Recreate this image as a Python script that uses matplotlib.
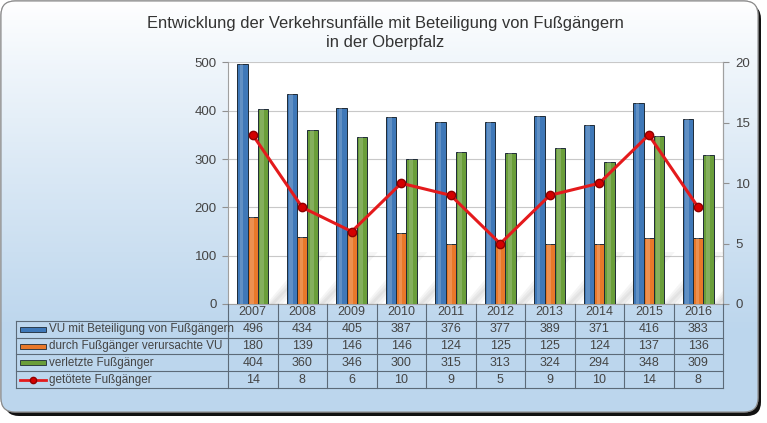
import numpy as np
import matplotlib
matplotlib.use("Agg")
import matplotlib.pyplot as plt
from matplotlib.patches import FancyBboxPatch, Rectangle, Polygon

plt.rcParams['font.family'] = ['Liberation Sans', 'DejaVu Sans']

# data
years = ['2007', '2008', '2009', '2010', '2011', '2012', '2013', '2014', '2015', '2016']
vu_beteiligung = [496, 434, 405, 387, 376, 377, 389, 371, 416, 383]
vu_verursacht = [180, 139, 146, 146, 124, 125, 125, 124, 137, 136]
verletzte = [404, 360, 346, 300, 315, 313, 324, 294, 348, 309]
getoetete = [14, 8, 6, 10, 9, 5, 9, 10, 14, 8]

labels = ['VU mit Beteiligung von Fußgängern', 'durch Fußgänger verursachte VU',
          'verletzte Fußgänger', 'getötete Fußgänger']
title = 'Entwicklung der Verkehrsunfälle mit Beteiligung von Fußgängern\nin der Oberpfalz'

BLUE = '#3f78b8'
ORANGE = '#e8782a'
GREEN = '#6a9e3a'
RED = '#e41a1c'
TXT = '#444444'
EDGE = '#5c6a78'

W, H = 767, 423
fig = plt.figure(figsize=(W / 100, H / 100), dpi=100)
fig.patch.set_facecolor('white')

# background box with gradient, in pixel coords
bg = fig.add_axes([0, 0, 1, 1], zorder=-10)
bg.set_xlim(0, W)
bg.set_ylim(H, 0)
bg.set_axis_off()
shadow = FancyBboxPatch((5, 5), 756, 411, boxstyle='round,pad=0,rounding_size=14',
                        facecolor='#111111', edgecolor='none')
bg.add_patch(shadow)
box = FancyBboxPatch((1, 1), 757, 411, boxstyle='round,pad=0,rounding_size=14',
                     facecolor='white', edgecolor='#8a8a8a', lw=0.8)
bg.add_patch(box)
grad = np.linspace(0, 1, 256).reshape(-1, 1)
grad = np.clip(grad * 1.25, 0, 1) ** 0.9
top = np.array([1.0, 1.0, 1.0])
bot = np.array([0.74, 0.84, 0.93])
img = top + (bot - top) * grad[..., None]
im = bg.imshow(img, extent=(1, 758, 412, 1), aspect='auto', zorder=1)
im.set_clip_path(box)
edge = FancyBboxPatch((1, 1), 757, 411, boxstyle='round,pad=0,rounding_size=14',
                      facecolor='none', edgecolor='#8a8a8a', lw=0.8, zorder=2)
bg.add_patch(edge)

fig.text(385 / W, 1 - 33 / H, title, ha='center', va='center', fontsize=11.9,
         color='#333333', linespacing=1.3)

# main plot
x0, x1 = 228, 723
y0, y1 = 304, 62.5
ax = fig.add_axes([x0 / W, (H - y0) / H, (x1 - x0) / W, (y0 - y1) / H])
ax.set_facecolor('white')
x = np.arange(len(years))
bw = 0.21

# soft floor shadows behind each bar group (pixel offsets -> data units)
px_x = 1 / ((x1 - x0) / len(years))
px_y = 500 / (y0 - y1)
for i in x:
    bx = i + 1.5 * bw
    for k, a in enumerate([0.05, 0.05, 0.05]):
        w = 14 - 4 * k
        pts = [(bx + (-2 + 2 * k) * px_x, 0), (bx + w * px_x, 0),
               (bx + (w + 46 - 6 * k) * px_x, (52 - 8 * k) * px_y),
               (bx + (42 - 2 * k) * px_x, (52 - 8 * k) * px_y)]
        ax.add_patch(Polygon(pts, closed=True, facecolor='#404040', alpha=a,
                             edgecolor='none', zorder=1))

series = [(vu_beteiligung, BLUE, -bw), (vu_verursacht, ORANGE, 0), (verletzte, GREEN, bw)]
for vals, col, off in series:
    ax.bar(x + off, vals, bw, color=col, edgecolor='#1e2a36', linewidth=0.7, zorder=3)
    # lighter highlight inside the bar for a bit of a 3d look
    ax.bar(x + off - bw * 0.08, vals, bw * 0.35, color='white', alpha=0.18,
           linewidth=0, zorder=4)
ax.set_xlim(-0.5, len(years) - 0.5)
ax.set_ylim(0, 500)
ax.set_yticks(range(0, 501, 100))
ax.yaxis.grid(True, color='#c8c8c8', lw=0.8, zorder=0)
ax.set_axisbelow(True)
ax.set_xticks([])
ax.tick_params(axis='y', colors='#909090', labelcolor=TXT, labelsize=9.5, length=4, pad=4)
ax.spines['top'].set_visible(False)
for s in ['left', 'right', 'bottom']:
    ax.spines[s].set_color('#a0a0a0')

ax2 = ax.twinx()
ax2.plot(x, getoetete, color=RED, lw=2.2, marker='o', ms=6,
         markerfacecolor='#d40000', markeredgecolor='#900000', zorder=5)
ax2.set_ylim(0, 20)
ax2.set_yticks(range(0, 21, 5))
ax2.tick_params(axis='y', colors='#909090', labelcolor=TXT, labelsize=9.5, length=4, pad=5)
for s in ['top', 'left', 'bottom']:
    ax2.spines[s].set_visible(False)
ax2.spines['right'].set_color('#a0a0a0')

# data table below the plot, pixel coords
tb = fig.add_axes([0, 0, 1, 1], zorder=5)
tb.set_xlim(0, W)
tb.set_ylim(H, 0)
tb.set_axis_off()
tx0 = 16
rows_y = [304, 320.7, 337.7, 354.5, 371.3, 388]
cw = (x1 - x0) / len(years)
lc = dict(color=EDGE, lw=0.8)
for i in range(len(years) + 1):
    tb.plot([x0 + i * cw] * 2, [rows_y[0], rows_y[-1]], **lc)
tb.plot([tx0, tx0], [rows_y[1], rows_y[-1]], **lc)
for yy in rows_y[1:]:
    tb.plot([tx0, x1], [yy, yy], **lc)
for i, yr in enumerate(years):
    tb.text(x0 + (i + 0.5) * cw, (rows_y[0] + rows_y[1]) / 2, yr, ha='center',
            va='center', fontsize=9, color=TXT)
table_vals = [vu_beteiligung, vu_verursacht, verletzte, getoetete]
for r, vals in enumerate(table_vals):
    yc = (rows_y[r + 1] + rows_y[r + 2]) / 2
    for i, v in enumerate(vals):
        tb.text(x0 + (i + 0.5) * cw, yc, str(v), ha='center', va='center',
                fontsize=9, color=TXT)
    tb.text(49, yc, labels[r], ha='left', va='center', fontsize=8.4, color=TXT)
    if r < 3:
        col = [BLUE, ORANGE, GREEN][r]
        tb.add_patch(Rectangle((20, yc - 2.5), 26, 5, facecolor=col,
                               edgecolor='#1e2a36', lw=0.6))
    else:
        tb.plot([20, 46], [yc, yc], color=RED, lw=2)
        tb.plot([33], [yc], marker='o', ms=4.5, color='#d40000',
                markeredgecolor='#900000')

fig.savefig('out.png', dpi=100)
